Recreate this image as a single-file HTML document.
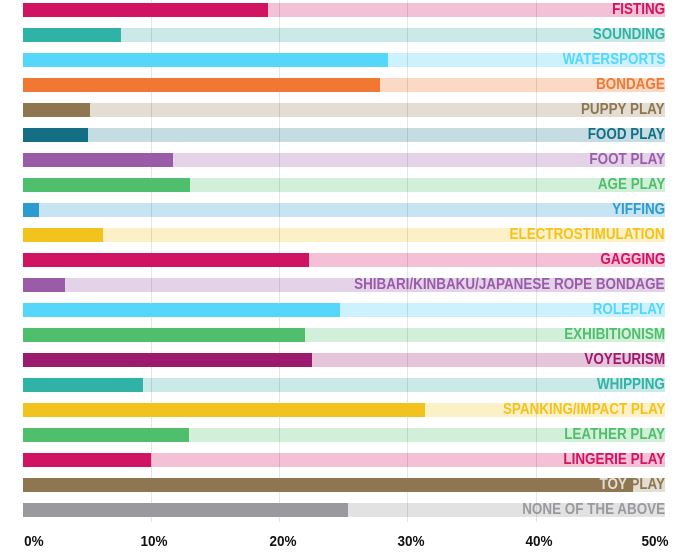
<!DOCTYPE html>
<html><head><style>
body{margin:0;width:686px;height:557px;background:#fff;position:relative;overflow:hidden;font-family:"Liberation Sans Narrow","Liberation Sans",sans-serif;font-weight:bold}
.bg,.fg,.g,.l,.t{position:absolute}
.bg{left:23px;width:642px;height:14px}
.fg{left:23px;height:14px}
.g{top:0;width:1px;height:522px;background:rgba(0,0,0,0.1)}
.l{right:21px;font-size:16px;line-height:14px;height:14px;transform:scaleX(0.84);transform-origin:right center;white-space:nowrap}
.t{top:533px;font-size:15px;color:#111;transform:scaleX(0.9)}
</style></head><body>
<div id="c"></div>
<script>
const d=[["FISTING",268,"#d01461","#f3c0d5"],["SOUNDING",121,"#2fb3a6","#cbeae7"],["WATERSPORTS",388,"#55d6fb","#cdf2fd"],["BONDAGE",380,"#f07833","#fbd9c5"],["PUPPY PLAY",90,"#8d7650","#e3ddd3"],["FOOD PLAY",88,"#146f85","#c5dde2"],["FOOT PLAY",173,"#9a5ba8","#e4d3e8"],["AGE PLAY",190,"#4fbf6e","#d2efda"],["YIFFING",39,"#2b9bd0","#c6e4f2"],["ELECTROSTIMULATION",103,"#f3c31d","#fcf0c6"],["GAGGING",309,"#d01461","#f3c0d5"],["SHIBARI/KINBAKU/JAPANESE ROPE BONDAGE",65,"#9a5ba8","#e4d3e8"],["ROLEPLAY",340,"#55d6fb","#cdf2fd"],["EXHIBITIONISM",305,"#4fbf6e","#d2efda"],["VOYEURISM",312,"#9b1a6e","#e6c5da"],["WHIPPING",143,"#2fb3a6","#cbeae7"],["SPANKING/IMPACT PLAY",425,"#f3c31d","#fcf0c6"],["LEATHER PLAY",189,"#4fbf6e","#d2efda"],["LINGERIE PLAY",151,"#d01461","#f3c0d5"],["TOY PLAY",633,"#8d7650","#e3ddd3"],["NONE OF THE ABOVE",348,"#9a999e","#e2e2e3"]];
let h="";
d.forEach((r,i)=>{const y=3+i*25;
h+=`<div class="bg" style="top:${y}px;background:${r[3]}"></div>`;});
[151,279,407,536].forEach(x=>h+=`<div class="g" style="left:${x}px"></div>`);
d.forEach((r,i)=>{const y=3+i*25;
h+=`<div class="fg" style="top:${y}px;width:${r[1]-23}px;background:${r[2]}"></div>`;
let txt=r[0];
if(r[0]==="TOY PLAY") txt=`<span style="color:${r[3]}">TOY</span> PLAY`;
h+=`<div class="l" style="top:${y}px;color:${r[2]}">${txt}</div>`;});
h+=`<div class="t" style="left:23px">0%</div><div class="t" style="left:139px">10%</div><div class="t" style="left:268px">20%</div><div class="t" style="left:396px">30%</div><div class="t" style="left:524px">40%</div><div class="t" style="left:640px">50%</div>`;
document.getElementById("c").innerHTML=h;
</script>
</body></html>
